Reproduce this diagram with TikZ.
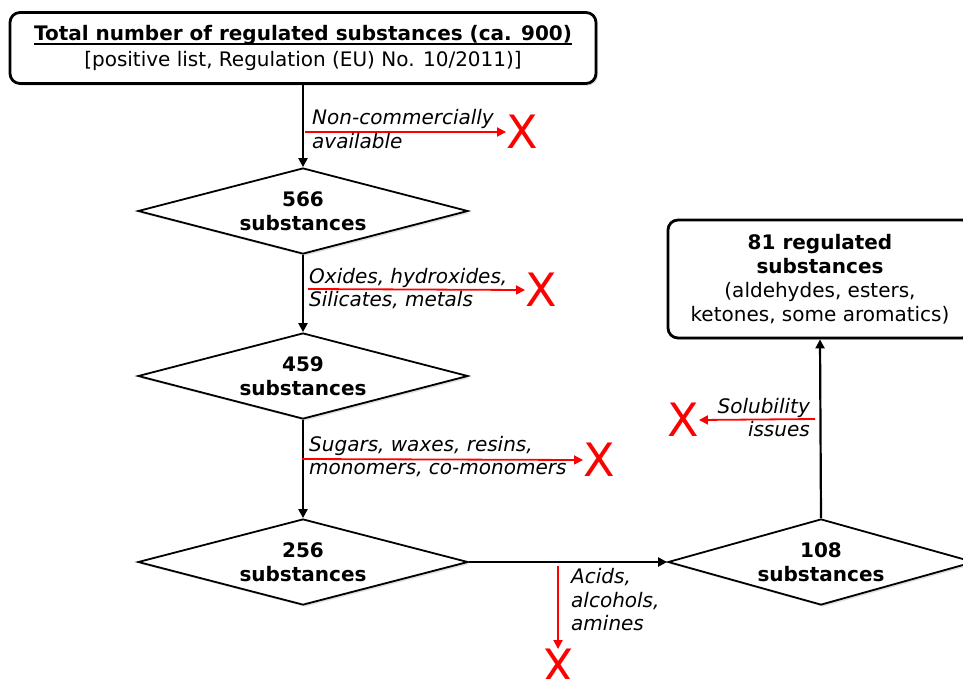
\documentclass[tikz,border=0pt]{standalone}
\usepackage{fontspec}
\setmainfont{DejaVu Sans}
\usetikzlibrary{shapes.geometric,arrows.meta,shadows}
\newcommand\ulx[1]{\setbox0\hbox{#1}\rlap{\smash{\raisebox{-4.2pt}{\rule{\wd0}{1.6pt}}}}\box0}
\begin{document}
\begin{tikzpicture}[x=1pt,y=-1pt,
  every node/.style={font=\fontsize{20}{24}\selectfont},
  shd/.style={drop shadow={opacity=0.25,shadow xshift=2pt,shadow yshift=-2pt}},
  rbox/.style={draw=black,line width=2.8pt,rounded corners=10pt,fill=white,shd,align=center,inner sep=0pt},
  dia/.style={diamond,aspect=3.5,draw=black,line width=1.8pt,fill=white,shd,inner sep=0pt,minimum width=330pt,minimum height=86pt,align=center,font=\fontsize{20}{24}\selectfont\bfseries},
  flow/.style={draw=black,line width=2.2pt,-{Triangle[length=9pt,width=9pt]}},
  rflow/.style={draw=red,line width=1.8pt,-{Triangle[length=9pt,width=9pt]}},
  lbl/.style={inner sep=0pt,align=left,font=\fontsize{20}{23.5}\selectfont\itshape},
  cross/.style={text=red,inner sep=0pt,font=\fontsize{46}{46}\selectfont}
]
\useasboundingbox (0,0) rectangle (963,678);

\node[rbox,minimum width=586pt,minimum height=71pt,font=\fontsize{20}{25.5}\selectfont] (top) at (303,48)
  {\textbf{\ulx{Total number of regulated substances (ca. 900)}}\\{}{[positive list, Regulation (EU) No. 10/2011)]}};

\node[dia] (d1) at (303,211) {566\\substances};
\node[dia] (d2) at (303,376) {459\\substances};
\node[dia] (d3) at (303,562) {256\\substances};
\node[dia,minimum width=306pt] (d4) at (821,562) {108\\substances};

\node[rbox,minimum width=304pt,minimum height=118pt] (fin) at (820,279)
  {\textbf{81 regulated}\\\textbf{substances}\\(aldehydes, esters,\\ketones, some aromatics)};

\draw[flow] (top.south) -- (d1.north);
\draw[flow] (d1.south) -- (d2.north);
\draw[flow] (d2.south) -- (d3.north);
\draw[flow] (d3.east) -- (d4.west);
\draw[flow] (d4.north) -- (fin.south);

% exclusions
\node[cross] (x1) at (522,132) {X};
\node[cross] (x2) at (541,290) {X};
\node[cross] (x3) at (599,460) {X};
\node[cross] (x4) at (558,666) {X};
\node[cross] (x5) at (683,420) {X};

\coordinate (c1) at (305,132);
\coordinate (c2) at (308,289);
\coordinate (c3) at (302,459);
\coordinate (c4) at (558,566);
\coordinate (c5) at (815,419);

\draw[rflow] (c1) -- (x1.west);
\draw[rflow] (c2) -- (x2.west);
\draw[rflow] (c3) -- (x3.west);
\draw[rflow] (c4) -- (x4.north);
\draw[rflow] (c5) -- (x5.east);

\node[lbl,anchor=west] (l1) at (312,129) {Non-commercially\\available};
\node[lbl,anchor=west] (l2) at (309,288.5) {Oxides, hydroxides,\\Silicates, metals};
\node[lbl,anchor=west] (l3) at (309,456.5) {Sugars, waxes, resins,\\monomers, co-monomers};
\node[lbl,anchor=west] (l4) at (571,600) {Acids,\\alcohols,\\amines};
\node[lbl,anchor=east,align=right] (l5) at (810,417.5) {Solubility\\issues};
\end{tikzpicture}
\end{document}
